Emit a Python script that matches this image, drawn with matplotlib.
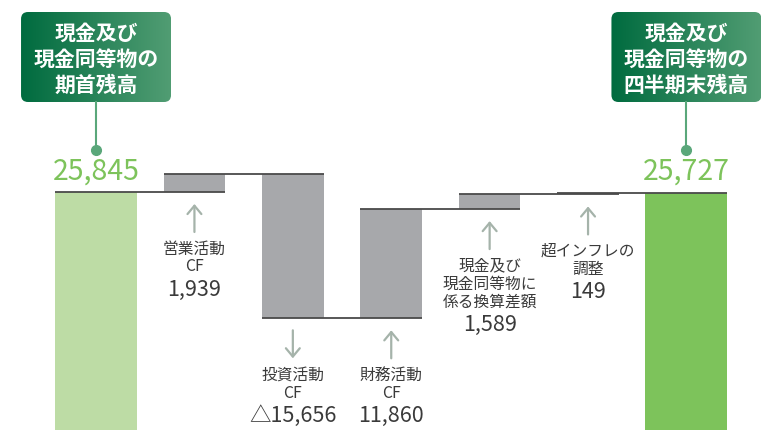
import matplotlib
matplotlib.use('Agg')
import matplotlib.pyplot as plt
import numpy as np
from matplotlib.patches import FancyBboxPatch
from matplotlib.colors import LinearSegmentedColormap
from matplotlib.patches import ArrowStyle

plt.rcParams['font.family'] = ['Noto Sans CJK JP', 'DejaVu Sans']

# ---- data ----
start_label = ["現金及び", "現金同等物の", "期首残高"]
end_label = ["現金及び", "現金同等物の", "四半期末残高"]
start_value = 25845
end_value = 25727
start_text = "25,845"
end_text = "25,727"
change_labels = [["営業活動", "CF"], ["投資活動", "CF"], ["財務活動", "CF"],
                 ["現金及び", "現金同等物に", "係る換算差額"], ["超インフレの", "調整"]]
change_values = [1939, -15656, 11860, 1589, 149]
change_texts = ["1,939", "△15,656", "11,860", "1,589", "149"]

W, H = 763, 430
fig = plt.figure(figsize=(W / 100, H / 100), dpi=100)
ax = fig.add_axes([0, 0, 1, 1])
ax.set_xlim(-0.976, 6.778)
ax.set_ylim(0, 46690)
ax.axis('off')

ax2 = fig.add_axes([0, 0, 1, 1], zorder=3)
ax2.patch.set_alpha(0)
ax2.axis('off')

n = len(change_values)
end_idx = n + 1
wide, narrow = 0.833, 0.625
line_col = '#4a4a4a'
bar_grey = '#a7a8ab'
txt_col = '#3a3a3a'
arrow_col = '#a5b3aa'

# end bars
ax.bar(0, start_value, width=wide, color='#bddca5', zorder=1)
ax.bar(end_idx, end_value, width=wide, color='#7dc35b', zorder=1)

levels = [start_value]
bottoms = []
for i, v in enumerate(change_values):
    prev = levels[-1]
    b = min(prev, prev + v)
    bottoms.append((b, v))
    ax.bar(i + 1, abs(v), bottom=b, width=narrow, color=bar_grey, zorder=1)
    levels.append(prev + v)

widths = [wide] + [narrow] * n + [wide]
for j in range(len(levels)):
    x0 = j - widths[j] / 2
    x1 = (j + 1) + widths[j + 1] / 2
    ax.plot([x0, x1], [levels[j], levels[j]], color=line_col, lw=1.3, zorder=2,
            solid_capstyle='butt')


def to_px(x, y):
    dx, dy = ax.transData.transform((x, y))
    return dx, H - dy


ax2.set_xlim(0, W)
ax2.set_ylim(H, 0)

# change labels
for i, (lbls, v, t) in enumerate(zip(change_labels, change_values, change_texts)):
    b, _ = bottoms[i]
    xp, yb = to_px(i + 1, b)
    head = yb + 12
    tail = head + 28
    if v >= 0:
        xy, xyt = (xp, head), (xp, tail)
    else:
        xy, xyt = (xp, tail), (xp, head)
    ax2.annotate('', xy=xy, xytext=xyt,
                 arrowprops=dict(arrowstyle=ArrowStyle('->', head_length=0.6, head_width=0.5),
                                 color=arrow_col, lw=1.6, shrinkA=0, shrinkB=0))
    y = tail + 17
    for k, l in enumerate(lbls):
        ax2.text(xp, y, l, fontsize=11.3, color=txt_col, ha='center', va='center')
        if k < len(lbls) - 1:
            y += 18
    ax2.text(xp, y + 23, t, fontsize=15.5, color=txt_col, ha='center', va='center')

# callouts
cmap = LinearSegmentedColormap.from_list('g', ['#006b3f', '#519d73'])
grad = np.linspace(0, 1, 256).reshape(1, -1)
for idx, lbls, t in [(0, start_label, start_text), (end_idx, end_label, end_text)]:
    xp, _ = to_px(idx, 0)
    bw, top, bh = 150, 12, 90
    x0 = xp - bw / 2
    patch = FancyBboxPatch((x0, top), bw, bh, boxstyle='round,pad=0,rounding_size=7',
                           facecolor='none', edgecolor='none')
    ax2.add_patch(patch)
    im = ax2.imshow(grad, extent=(x0, x0 + bw, top + bh, top), aspect='auto', cmap=cmap,
                    zorder=2)
    im.set_clip_path(patch)
    for k, l in enumerate(lbls):
        ax2.text(xp, 33 + 26 * k, l, fontsize=15, fontweight='bold', color='white',
                 ha='center', va='center', zorder=4)
    ax2.plot([xp, xp], [top + bh, 150], color='#5aa77a', lw=1.5, zorder=2)
    ax2.plot([xp], [150], 'o', ms=7, color='#5aa77a', zorder=3)
    ax2.text(xp, 172, t, fontsize=20.5, color='#7dc35b', ha='center', va='center')

ax2.set_xlim(0, W)
ax2.set_ylim(H, 0)

fig.savefig('out.png', dpi=100)
